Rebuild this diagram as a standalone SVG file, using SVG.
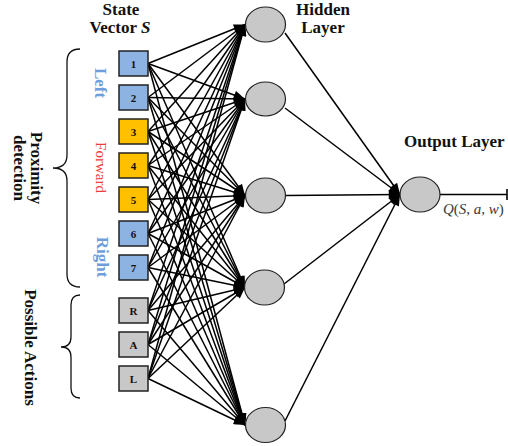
<svg xmlns="http://www.w3.org/2000/svg" width="508" height="446" viewBox="0 0 508 446">
  <style>
    .lbl { font-family: "Liberation Serif", "Times New Roman", serif; font-weight: bold; font-size: 17px; fill: #111; }
    .num { font-family: "Liberation Serif", "Times New Roman", serif; font-weight: bold; font-size: 11px; fill: #111; text-anchor: middle; }
    .box { stroke: #222; stroke-width: 1.5; }
    .blue { fill: #8DB3E2; }
    .yel { fill: #FFC000; }
    .gry { fill: #C8C8C8; }
    .neuron { fill: #C8C8C8; stroke: #222; stroke-width: 1.2; }
    .w { stroke: #000; stroke-width: 1.5; fill: none; marker-end: url(#arr); }
    .brace { stroke: #111; stroke-width: 1.3; fill: none; }
  </style>
  <defs>
    <marker id="arr" viewBox="0 0 10 8" refX="10" refY="4" markerWidth="12" markerHeight="9" markerUnits="userSpaceOnUse" orient="auto">
      <path d="M0,0 L10,4 L0,8 z" fill="#000"/>
    </marker>
  </defs>

  <!-- headings -->
  <text class="lbl" x="121" y="15" text-anchor="middle" font-size="16.5">State</text>
  <text class="lbl" x="120" y="33" text-anchor="middle">Vector <tspan font-style="italic">S</tspan></text>
  <text class="lbl" x="323" y="15" text-anchor="middle" font-size="16.5">Hidden</text>
  <text class="lbl" x="323" y="33" text-anchor="middle">Layer</text>
  <text class="lbl" x="404" y="147">Output Layer</text>

  <!-- side labels -->
  <text class="lbl" transform="translate(94.5,83) rotate(90)" text-anchor="middle" style="fill:#6F9FDB">Left</text>
  <text transform="translate(96,167.5) rotate(90)" text-anchor="middle" font-family="Liberation Serif, serif" font-size="15" fill="#F03C3C">Forward</text>
  <text class="lbl" transform="translate(97,257) rotate(90)" text-anchor="middle" style="fill:#6F9FDB">Right</text>
  <text class="lbl" transform="translate(30.5,168) rotate(90)" text-anchor="middle">Proximity</text>
  <text class="lbl" transform="translate(13.5,168) rotate(90)" text-anchor="middle">detection</text>
  <text class="lbl" transform="translate(24.5,347.5) rotate(90)" text-anchor="middle">Possible Actions</text>

  <!-- braces -->
  <path class="brace" d="M80,49 Q67,49 67,62 L67,155 Q67,168 53,168 Q67,168 67,181 L67,274 Q67,287 80,287"/>
  <path class="brace" d="M80,295 Q71,295 71,305 L71,337 Q71,347 61,347 Q71,347 71,357 L71,388 Q71,398 80,398"/>

  <!-- connectors: inputs to hidden layer, hidden layer to output -->
  <g id="connectors">
    <line class="w" x1="148" y1="63.5" x2="245" y2="24.5"/>
    <line class="w" x1="148" y1="63.5" x2="245" y2="99"/>
    <line class="w" x1="148" y1="63.5" x2="245" y2="195.5"/>
    <line class="w" x1="148" y1="63.5" x2="245" y2="287.5"/>
    <line class="w" x1="148" y1="63.5" x2="245" y2="425"/>

    <line class="w" x1="148" y1="97.5" x2="245" y2="24.5"/>
    <line class="w" x1="148" y1="97.5" x2="245" y2="99"/>
    <line class="w" x1="148" y1="97.5" x2="245" y2="195.5"/>
    <line class="w" x1="148" y1="97.5" x2="245" y2="287.5"/>
    <line class="w" x1="148" y1="97.5" x2="245" y2="425"/>

    <line class="w" x1="148" y1="131.5" x2="245" y2="24.5"/>
    <line class="w" x1="148" y1="131.5" x2="245" y2="99"/>
    <line class="w" x1="148" y1="131.5" x2="245" y2="195.5"/>
    <line class="w" x1="148" y1="131.5" x2="245" y2="287.5"/>
    <line class="w" x1="148" y1="131.5" x2="245" y2="425"/>

    <line class="w" x1="148" y1="165.5" x2="245" y2="24.5"/>
    <line class="w" x1="148" y1="165.5" x2="245" y2="99"/>
    <line class="w" x1="148" y1="165.5" x2="245" y2="195.5"/>
    <line class="w" x1="148" y1="165.5" x2="245" y2="287.5"/>
    <line class="w" x1="148" y1="165.5" x2="245" y2="425"/>

    <line class="w" x1="148" y1="199.5" x2="245" y2="24.5"/>
    <line class="w" x1="148" y1="199.5" x2="245" y2="99"/>
    <line class="w" x1="148" y1="199.5" x2="245" y2="195.5"/>
    <line class="w" x1="148" y1="199.5" x2="245" y2="287.5"/>
    <line class="w" x1="148" y1="199.5" x2="245" y2="425"/>

    <line class="w" x1="148" y1="233.5" x2="245" y2="24.5"/>
    <line class="w" x1="148" y1="233.5" x2="245" y2="99"/>
    <line class="w" x1="148" y1="233.5" x2="245" y2="195.5"/>
    <line class="w" x1="148" y1="233.5" x2="245" y2="287.5"/>
    <line class="w" x1="148" y1="233.5" x2="245" y2="425"/>

    <line class="w" x1="148" y1="267.5" x2="245" y2="24.5"/>
    <line class="w" x1="148" y1="267.5" x2="245" y2="99"/>
    <line class="w" x1="148" y1="267.5" x2="245" y2="195.5"/>
    <line class="w" x1="148" y1="267.5" x2="245" y2="287.5"/>
    <line class="w" x1="148" y1="267.5" x2="245" y2="425"/>

    <line class="w" x1="148" y1="310.5" x2="245" y2="24.5"/>
    <line class="w" x1="148" y1="310.5" x2="245" y2="99"/>
    <line class="w" x1="148" y1="310.5" x2="245" y2="195.5"/>
    <line class="w" x1="148" y1="310.5" x2="245" y2="287.5"/>
    <line class="w" x1="148" y1="310.5" x2="245" y2="425"/>

    <line class="w" x1="148" y1="344.5" x2="245" y2="24.5"/>
    <line class="w" x1="148" y1="344.5" x2="245" y2="99"/>
    <line class="w" x1="148" y1="344.5" x2="245" y2="195.5"/>
    <line class="w" x1="148" y1="344.5" x2="245" y2="287.5"/>
    <line class="w" x1="148" y1="344.5" x2="245" y2="425"/>

    <line class="w" x1="148" y1="378.5" x2="245" y2="24.5"/>
    <line class="w" x1="148" y1="378.5" x2="245" y2="99"/>
    <line class="w" x1="148" y1="378.5" x2="245" y2="195.5"/>
    <line class="w" x1="148" y1="378.5" x2="245" y2="287.5"/>
    <line class="w" x1="148" y1="378.5" x2="245" y2="425"/>

    <line class="w" x1="285" y1="33" x2="400" y2="194.5"/>
    <line class="w" x1="285" y1="108" x2="400" y2="194.5"/>
    <line class="w" x1="286" y1="195.5" x2="400" y2="194.5"/>
    <line class="w" x1="284" y1="284" x2="400" y2="194.5"/>
    <line class="w" x1="285" y1="421" x2="400" y2="194.5"/>

    <line x1="440" y1="194.5" x2="507" y2="194.5" stroke="#000" stroke-width="1.3"/>
    <line x1="507" y1="189" x2="507" y2="200" stroke="#000" stroke-width="1.6"/>
  </g>

  <!-- input state vector -->
  <g id="in1"><rect class="box blue" x="119" y="51" width="29" height="25"/><text class="num" x="133.5" y="67.5">1</text></g>
  <g id="in2"><rect class="box blue" x="119" y="85" width="29" height="25"/><text class="num" x="133.5" y="101.5">2</text></g>
  <g id="in3"><rect class="box yel" x="119" y="119" width="29" height="25"/><text class="num" x="133.5" y="135.5">3</text></g>
  <g id="in4"><rect class="box yel" x="119" y="153" width="29" height="25"/><text class="num" x="133.5" y="169.5">4</text></g>
  <g id="in5"><rect class="box yel" x="119" y="187" width="29" height="25"/><text class="num" x="133.5" y="203.5">5</text></g>
  <g id="in6"><rect class="box blue" x="119" y="221" width="29" height="25"/><text class="num" x="133.5" y="237.5">6</text></g>
  <g id="in7"><rect class="box blue" x="119" y="255" width="29" height="25"/><text class="num" x="133.5" y="271.5">7</text></g>
  <g id="inR"><rect class="box gry" x="119" y="298" width="29" height="25"/><text class="num" x="133.5" y="314.5">R</text></g>
  <g id="inA"><rect class="box gry" x="119" y="332" width="29" height="25"/><text class="num" x="133.5" y="348.5">A</text></g>
  <g id="inL"><rect class="box gry" x="119" y="366" width="29" height="25"/><text class="num" x="133.5" y="382.5">L</text></g>

  <!-- hidden layer -->
  <g id="h1"><ellipse class="neuron" cx="265.5" cy="24.5" rx="20" ry="17.5"/></g>
  <g id="h2"><ellipse class="neuron" cx="265.5" cy="99" rx="20" ry="17"/></g>
  <g id="h3"><ellipse class="neuron" cx="265.5" cy="195.5" rx="20" ry="17.5"/></g>
  <g id="h4"><ellipse class="neuron" cx="264.5" cy="287.5" rx="20" ry="17.5"/></g>
  <g id="h5"><ellipse class="neuron" cx="265.5" cy="425" rx="20" ry="17.5"/></g>

  <!-- output -->
  <g id="out"><ellipse class="neuron" cx="420" cy="194.5" rx="20" ry="17.5"/></g>
  <text x="443" y="214" font-family="Liberation Serif, serif" font-size="15" fill="#3A3A3A"><tspan font-style="italic">Q</tspan>(<tspan font-style="italic">S</tspan>, <tspan font-style="italic">a</tspan>, <tspan font-style="italic">w</tspan>)</text>
</svg>
